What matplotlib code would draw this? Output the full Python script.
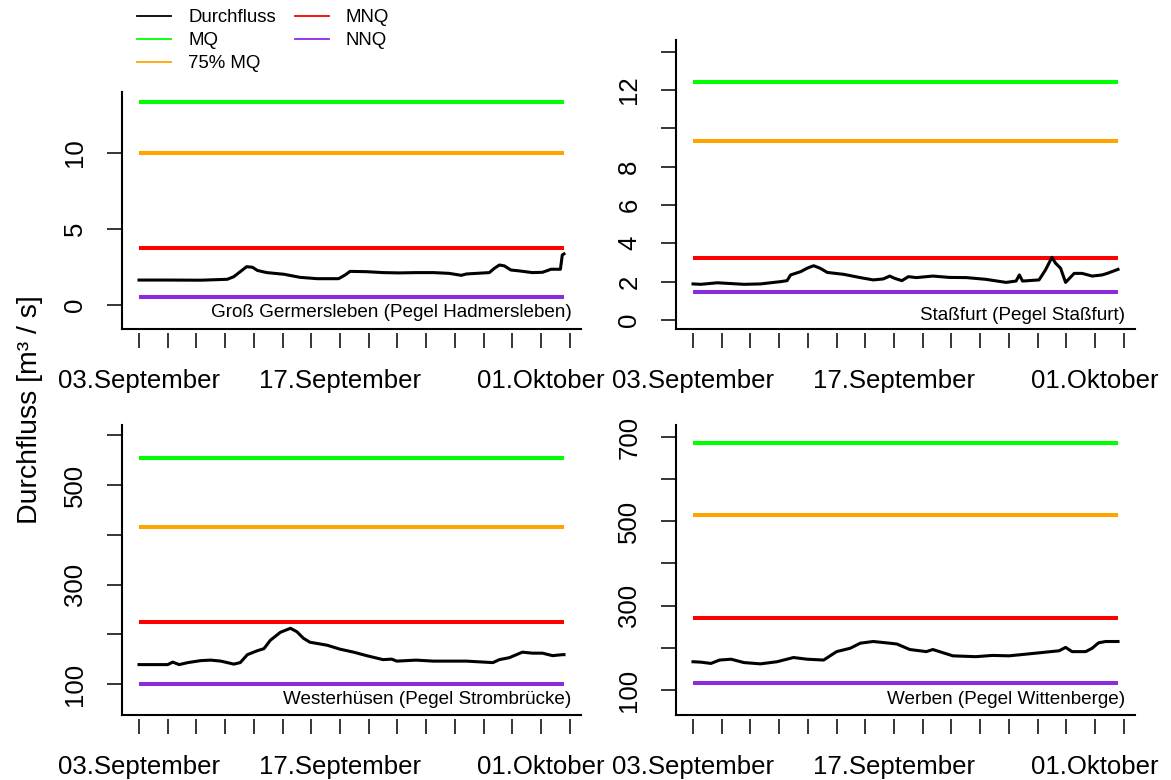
import numpy as np
import matplotlib.pyplot as plt
import pandas as pd
from matplotlib.lines import Line2D

plt.rcParams['font.family'] = ['Liberation Sans', 'DejaVu Sans']

start = pd.Timestamp('2018-09-03')

# Durchfluss, Tage seit 03.September
days1 = [0, 2.0, 4.3, 6.15, 6.6, 7.05, 7.5, 7.9, 8.25, 8.9, 10.1, 11.2, 12.4, 13.9, 14.35,
         14.7, 15.85, 17.0, 18.15, 19.3, 20.5, 21.6, 22.45, 22.8, 24.4, 24.75, 25.1, 25.45,
         25.9, 26.5, 27.4, 28.1, 28.7, 29.35, 29.48, 29.6]
q1 = [1.64, 1.64, 1.63, 1.69, 1.86, 2.19, 2.52, 2.48, 2.27, 2.13, 2.02, 1.82, 1.73, 1.73, 1.97,
      2.21, 2.19, 2.13, 2.11, 2.13, 2.13, 2.08, 1.95, 2.04, 2.13, 2.41, 2.63, 2.57,
      2.30, 2.24, 2.13, 2.15, 2.35, 2.35, 3.29, 3.36]

days2 = [0, 0.55, 1.7, 3.55, 4.7, 6.1, 6.55, 6.8, 7.5, 7.95, 8.4, 8.85, 9.35, 10.5, 11.65,
         12.55, 13.25, 13.7, 14.05, 14.55, 15.0, 15.55, 16.7, 17.85, 19.05, 20.4, 21.8, 22.5,
         22.73, 22.95, 24.1, 24.55, 25.0, 25.25, 25.6, 25.95, 26.55, 27.1, 27.8, 28.5, 28.85, 29.6]
q2 = [1.88, 1.86, 1.94, 1.86, 1.88, 2.00, 2.05, 2.35, 2.52, 2.70, 2.83, 2.70, 2.48, 2.38, 2.21,
      2.09, 2.14, 2.29, 2.17, 2.05, 2.26, 2.21, 2.29, 2.22, 2.21, 2.12, 1.96, 2.03,
      2.35, 2.03, 2.09, 2.61, 3.27, 2.96, 2.70, 1.96, 2.43, 2.43, 2.29, 2.35, 2.43, 2.64]

days3 = [0, 2.0, 2.35, 2.8, 3.4, 4.3, 5.0, 5.7, 6.6, 7.05, 7.55, 8.25, 8.7, 9.15, 9.85, 10.55,
         11.0, 11.45, 11.9, 13.1, 14.0, 14.95, 15.85, 17.0, 17.6, 17.95, 19.3, 20.5, 22.8,
         24.65, 25.1, 25.8, 26.7, 27.4, 28.1, 28.8, 29.5, 29.6]
q3 = [139, 139, 144, 139, 143, 147, 148, 146, 140, 143, 159, 167, 171, 188, 204, 212,
      205, 192, 184, 178, 170, 164, 157, 149, 150, 146, 148, 146, 146,
      143, 149, 153, 164, 162, 162, 157, 159, 159]

days4 = [0, 0.55, 1.25, 1.85, 2.65, 3.55, 4.7, 5.85, 7.0, 7.95, 9.1, 10.0, 10.95, 11.65, 12.55,
         13.7, 14.2, 15.1, 16.25, 16.7, 18.1, 19.7, 20.85, 22.0, 23.2, 24.35, 25.5, 25.95,
         26.4, 27.35, 27.8, 28.25, 28.75, 29.6]
q4 = [167, 166, 163, 171, 173, 165, 162, 167, 177, 173, 171, 191, 199, 211, 215,
      211, 209, 196, 191, 196, 181, 179, 182, 181, 185, 189, 193, 201,
      191, 191, 199, 212, 215, 215]

# MQ, 75% MQ, MNQ, NNQ
refs1 = [13.38, 10.03, 3.73, 0.55]
refs2 = [12.42, 9.31, 3.22, 1.48]
refs3 = [554, 415.5, 224, 101]
refs4 = [685, 514, 270, 117]

names = ['Groß Germersleben (Pegel Hadmersleben)', 'Staßfurt (Pegel Staßfurt)',
         'Westerhüsen (Pegel Strombrücke)', 'Werben (Pegel Wittenberge)']

ref_labels = ['MQ', '75% MQ', 'MNQ', 'NNQ']
ref_colors = ['#00FF00', '#FFA500', '#FF0000', '#8A2BE2']

xticks = pd.date_range('2018-09-03', '2018-10-03', freq='2D')
xlabels = ['03.September' if d == pd.Timestamp('2018-09-03') else
           '17.September' if d == pd.Timestamp('2018-09-17') else
           '01.Oktober' if d == pd.Timestamp('2018-10-01') else '' for d in xticks]

W, H = 1171, 780
fig = plt.figure(figsize=(W / 100, H / 100), dpi=100)


def px_rect(l, t, r, b):
    return [l / W, 1 - b / H, (r - l) / W, (b - t) / H]


def panel(rect, days, q, refs, ylim, yticks, ylabels, name, name_y):
    ax = fig.add_axes(rect)
    t = start + pd.to_timedelta(days, unit='D')
    for val, col in zip(refs, ref_colors):
        ax.hlines(val, t[0], t[-1], color=col, lw=2.9)
    ax.plot(t, q, color='black', lw=2.2)
    pad = (t[-1] - t[0]) * 0.04
    ax.set_xlim(t[0] - pad, t[-1] + pad)
    ax.set_ylim(ylim)
    ax.set_xticks(xticks)
    ax.set_xticklabels(xlabels)
    ax.set_yticks(yticks)
    ax.set_yticklabels(ylabels)
    for s in ['top', 'right']:
        ax.spines[s].set_visible(False)
    ax.spines['left'].set_linewidth(1.5)
    ax.spines['bottom'].set_position(('outward', 3))
    ax.spines['bottom'].set_visible(False)
    ax.plot([0, 1], [0, 0], transform=ax.transAxes, color='black', lw=1.5, clip_on=False)
    ax.tick_params(axis='x', length=11, width=1.1, pad=14.5, labelsize=18.5)
    ax.tick_params(axis='y', length=11, width=1.1, pad=14, labelsize=18.5, labelrotation=90)
    for lab in ax.get_yticklabels():
        lab.set_va('center')
    ax.text(0.979, name_y, name, transform=ax.transAxes, ha='right', va='center', fontsize=13.6)
    return ax


panel(px_rect(122, 92, 581, 329), days1, q1, refs1, (-1.58, 14.01), [0, 5, 10],
      ['0', '5', '10'], names[0], 0.068)
panel(px_rect(676, 40, 1135, 329), days2, q2, refs2, (-0.47, 14.6), list(range(0, 15, 2)),
      ['0', '2', '4', '6', '8', '', '12', ''], names[1], 0.048)
panel(px_rect(122, 425, 581, 715), days3, q3, refs3, (37.7, 620.6), list(range(100, 700, 100)),
      ['100', '', '300', '', '500', ''], names[2], 0.055)
panel(px_rect(676, 425, 1135, 715), days4, q4, refs4, (40.7, 728.4), list(range(100, 800, 100)),
      ['100', '', '300', '', '500', '', '700'], names[3], 0.055)

handles = [Line2D([], [], color='black', lw=1.3)] + \
          [Line2D([], [], color=c, lw=1.3) for c in ref_colors]
labels = ['Durchfluss'] + ref_labels
fig.legend(handles, labels, loc='upper left', bbox_to_anchor=(137 / W, 1 - 9 / H), ncol=2,
           frameon=False, fontsize=13.4, handlelength=1.85, handletextpad=0.9,
           columnspacing=1.0, labelspacing=0.33, borderpad=0, borderaxespad=0)

fig.text(30 / W, 1 - 410 / H, 'Durchfluss [m³ / s]', rotation=90, ha='center', va='center',
         fontsize=20.5)

fig.savefig('out.png', dpi=100)
